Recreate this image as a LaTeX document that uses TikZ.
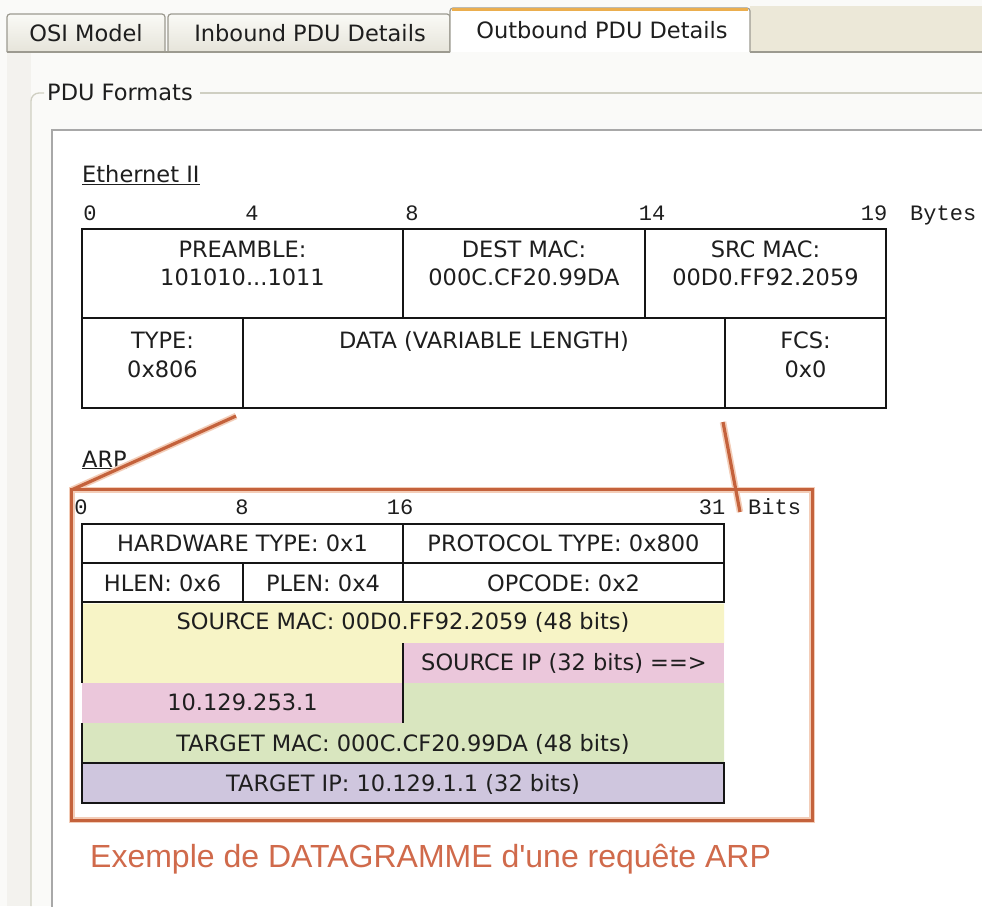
\documentclass[tikz,border=0pt]{standalone}
\usepackage{fontspec}
\setmainfont{DejaVu Sans}
\newfontfamily\monof{Liberation Mono}
\newfontfamily\titlef[Ligatures=TeXOff]{Liberation Sans}
\definecolor{txtc}{HTML}{1E1E1E}
\definecolor{linec}{HTML}{151515}
\definecolor{bgc}{HTML}{FAFAF8}
\definecolor{stripc}{HTML}{F3F2EE}
\definecolor{beigec}{HTML}{ECE8D8}
\definecolor{tabb}{HTML}{9C9A90}
\definecolor{tabtop}{HTML}{FAFAF6}
\definecolor{tabbot}{HTML}{E6E4DA}
\definecolor{tabor}{HTML}{EBAE4E}
\definecolor{framec}{HTML}{CFCFC2}
\definecolor{panelc}{HTML}{A8A8A8}
\definecolor{yelc}{HTML}{F7F4C6}
\definecolor{pinkc}{HTML}{EBC7DB}
\definecolor{greenc}{HTML}{D9E6BF}
\definecolor{purpc}{HTML}{CFC6DE}
\definecolor{orc}{HTML}{C4623C}
\definecolor{orhalo}{HTML}{F3CDB8}
\definecolor{titlec}{HTML}{D06A4B}
\begin{document}
\begin{tikzpicture}[x=1pt,y=-1pt,
  ui/.style={font=\fontsize{22.5}{27}\selectfont, text=txtc, inner sep=0pt},
  fld/.style={font=\fontsize{22.5}{27}\selectfont, text=txtc, inner sep=0pt, anchor=base},
  num/.style={font=\monof\fontsize{22}{26}\selectfont, text=txtc, inner sep=0pt, anchor=base},
  cell/.style={draw=linec, line width=2.8pt, rectangle, inner sep=0pt, fill=white},
  tabshape/.style={draw=tabb, line width=1.2pt, top color=tabtop, bottom color=tabbot, rounded corners=3pt},
  ohalo/.style={draw=orhalo, line width=6.5pt},
  oline/.style={draw=orc, line width=3.2pt},
  thinb/.style={draw=linec, line width=2.2pt}
]
\useasboundingbox (0,0) rectangle (982,906);
% background
\fill[bgc] (0,0) rectangle (982,906);
\fill[beigec] (750,6) rectangle (982,52);
\fill[stripc] (7,53) rectangle (31,906);
% tabs
\draw[tabshape] (7,52) -- (7,14) -- (165,14) -- (165,52);
\draw[tabshape] (168,52) -- (168,14) -- (450,14) -- (450,52);
\draw[tabb, line width=1.2pt] (7,52) -- (450,52);
\draw[tabb, line width=1.2pt] (750,52) -- (982,52);
\draw[tabb, line width=1.2pt, fill=white, rounded corners=3pt] (450,52) -- (450,8) -- (750,8) -- (750,52);
\draw[tabor, line width=3pt] (452,9.5) -- (748,9.5);
\node[ui, anchor=base] (tabosi) at (86,41) {OSI Model};
\node[ui, anchor=base] (tabin) at (310,41) {Inbound PDU Details};
\node[ui, anchor=base] (tabout) at (602,38) {Outbound PDU Details};
% group frame
\draw[framec, line width=1.3pt] (200,93) -- (982,93);
\draw[framec, line width=1.3pt, rounded corners=8pt] (44,93) -- (31,93) -- (31,906);
\node[ui, anchor=base west] (pduf) at (47,100) {PDU Formats};
% inner panel
\draw[panelc, line width=1.5pt, fill=white] (52,130) rectangle (992,916);
% Ethernet II
\node[ui, anchor=base west] (eth) at (82,182) {\underline{Ethernet II}};
\node[num] (e0) at (90,220) {0};
\node[num] (e4) at (252,220) {4};
\node[num] (e8) at (412,220) {8};
\node[num] (e14) at (652,220) {14};
\node[num] (e19) at (874,220) {19};
\node[num, anchor=base west] (ebytes) at (910,220) {Bytes};
\node[cell, minimum width=321pt, minimum height=89pt] (pre) at (242.5,273.5) {};
\node[cell, minimum width=242pt, minimum height=89pt] (dest) at (524,273.5) {};
\node[cell, minimum width=241pt, minimum height=89pt] (src) at (765.5,273.5) {};
\node[cell, minimum width=161pt, minimum height=90pt] (type) at (162.5,363) {};
\node[cell, minimum width=482pt, minimum height=90pt] (data) at (484,363) {};
\node[cell, minimum width=161pt, minimum height=90pt] (fcs) at (805.5,363) {};
\node[fld] (preA) at (242.5,257) {PREAMBLE:};
\node[fld] (preB) at (242.5,285) {101010...1011};
\node[fld] (destA) at (524,257) {DEST MAC:};
\node[fld] (destB) at (524,285) {000C.CF20.99DA};
\node[fld] (srcA) at (765.5,257) {SRC MAC:};
\node[fld] (srcB) at (765.5,285) {00D0.FF92.2059};
\node[fld] (typeA) at (162.5,348) {TYPE:};
\node[fld] (typeB) at (162.5,377) {0x806};
\node[fld] (dataA) at (484,348) {DATA (VARIABLE LENGTH)};
\node[fld] (fcsA) at (805.5,348) {FCS:};
\node[fld] (fcsB) at (805.5,377) {0x0};
% ARP
\node[ui, anchor=base west] (arp) at (82,467) {\underline{ARP}};
\node[num] (a0) at (81,514) {0};
\node[num] (a8) at (242,514) {8};
\node[num] (a16) at (400,514) {16};
\node[num] (a31) at (712,514) {31};
\node[num, anchor=base west] (abits) at (748,514) {Bits};
\node[cell, minimum width=321pt, minimum height=39pt] (hw) at (242.5,543.5) {};
\node[cell, minimum width=321pt, minimum height=39pt] (proto) at (563.5,543.5) {};
\node[cell, minimum width=161pt, minimum height=39pt] (hlen) at (162.5,582.5) {};
\node[cell, minimum width=160pt, minimum height=39pt] (plen) at (323,582.5) {};
\node[cell, minimum width=321pt, minimum height=39pt] (opc) at (563.5,582.5) {};
\fill[yelc] (82,603.5) -- (724,603.5) -- (724,643) -- (403,643) -- (403,683) -- (82,683) -- cycle;
\fill[pinkc] (403,643) rectangle (724,683);
\fill[pinkc] (82,683) rectangle (403,723);
\fill[greenc] (403,683) -- (724,683) -- (724,763) -- (82,763) -- (82,723) -- (403,723) -- cycle;
\fill[purpc] (82,763) rectangle (724,803);
\draw[thinb] (82,602) -- (82,683);
\draw[thinb] (82,723) -- (82,803) -- (724,803) -- (724,763) -- (82,763);
\draw[thinb] (403,643) -- (403,723);
\node[fld] (hwT) at (242.5,551) {HARDWARE TYPE: 0x1};
\node[fld] (protoT) at (563.5,551) {PROTOCOL TYPE: 0x800};
\node[fld] (hlenT) at (162.5,591) {HLEN: 0x6};
\node[fld] (plenT) at (323,591) {PLEN: 0x4};
\node[fld] (opcT) at (563.5,591) {OPCODE: 0x2};
\node[fld] (smacT) at (403,629) {SOURCE MAC: 00D0.FF92.2059 (48 bits)};
\node[fld] (sipT) at (564,670) {SOURCE IP (32 bits) ==>};
\node[fld] (sipB) at (242.5,710) {10.129.253.1};
\node[fld] (tmacT) at (403,751) {TARGET MAC: 000C.CF20.99DA (48 bits)};
\node[fld] (tipT) at (403,791) {TARGET IP: 10.129.1.1 (32 bits)};
% orange annotation box and connectors
\node[draw=none, minimum width=740pt, minimum height=330pt, inner sep=0pt] (arpbox) at (442,655) {};
\coordinate (dl) at (236,416);
\coordinate (dr) at (723,422);
\coordinate (dr2) at (740,512);
\draw[ohalo] (arpbox.north west) rectangle (arpbox.south east);
\draw[ohalo] (dl) -- (arpbox.north west);
\draw[ohalo] (dr) -- (dr2);
\draw[oline] (arpbox.north west) rectangle (arpbox.south east);
\draw[oline] (dl) -- (arpbox.north west);
\draw[oline] (dr) -- (dr2);
\node[anchor=base west, inner sep=0pt, text=titlec, font=\titlef\fontsize{32}{38}\selectfont] (title) at (90,867) {Exemple de DATAGRAMME d'une requête ARP};
\end{tikzpicture}
\end{document}
